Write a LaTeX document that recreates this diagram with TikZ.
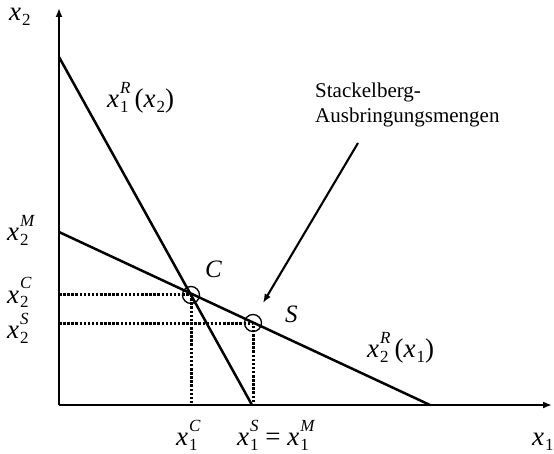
\documentclass[tikz,border=0pt]{standalone}
\usepackage{fontspec}
\setmainfont{Liberation Serif}
\usetikzlibrary{arrows.meta}
\newcommand\subsz{\fontsize{17}{17}\selectfont}
\newbox\subbx
\newbox\supbx
% x with subscript #1 and superscript #2, placed by hand
\newcommand\xs[2]{\textit{x}\kern1pt\setbox\subbx\hbox{\subsz #1}\setbox\supbx\hbox{\subsz\itshape #2}%
  \raisebox{-5pt}{\copy\subbx}\kern-\wd\subbx\raisebox{14pt}{\copy\supbx}%
  \ifdim\wd\subbx>\wd\supbx\kern\dimexpr\wd\subbx-\wd\supbx\relax\fi}
\begin{document}
\begin{tikzpicture}[x=1pt,y=-1pt,
  axis/.style={line width=2.8pt,-{Latex[length=9pt,width=7pt]}},
  curve/.style={line width=2.5pt},
  dots/.style={line width=3pt,dash pattern=on 2.5pt off 1.6pt},
  ring/.style={circle,draw,line width=1.3pt,minimum size=17pt,inner sep=0pt},
  mlab/.style={font=\fontsize{27}{30}\selectfont,inner sep=0pt,anchor=base west},
  tlab/.style={font=\fontsize{21}{25}\selectfont,inner sep=0pt,anchor=base west,align=left},
  pointer/.style={line width=2.1pt,-{Latex[length=9pt,width=7pt]}}]
\useasboundingbox (0,0) rectangle (554,454);
% key points
\coordinate (O) at (59,405);
\coordinate (Ytop) at (59,8);
\coordinate (Xend) at (552,405);
\coordinate (A) at (59,57);
\coordinate (B) at (252,405);
\coordinate (M) at (59,232);
\coordinate (D) at (430,405);
\coordinate (Cp) at (191,295);
\coordinate (Sp) at (253,323);
\coordinate (Cy) at (59,295);
\coordinate (Sy) at (59,323);
\coordinate (Cx) at (191,405);
\coordinate (Sx) at (253,405);
\coordinate (Pstart) at (358,143);
\coordinate (Pend) at (263,303);
% axes
\draw[axis] (O) -- (Ytop);
\draw[axis] (O) -- (Xend);
% reaction curves
\draw[curve] (A) -- (B);
\draw[curve] (M) -- (D);
% dotted guides
\draw[dots] (Cy) -- (Cp) -- (Cx);
\draw[dots] (Sy) -- (Sp) -- (Sx);
% circles
\node[ring] (Cc) at (Cp) {};
\node[ring] (Sc) at (Sp) {};
% pointer
\draw[pointer] (Pstart) -- (Pend);
% labels
\node[mlab] (lx2) at (9,21) {\xs{2}{}};
\node[mlab] (lr1) at (107,108) {\xs{1}{R}\kern4pt(\xs{2}{})};
\node[mlab] (l2M) at (7,241) {\xs{2}{M}};
\node[mlab] (l2C) at (7,303) {\xs{2}{C}};
\node[mlab] (l2S) at (7,338) {\xs{2}{S}};
\node[mlab,font=\fontsize{25}{30}\selectfont] (lC) at (205,277) {\itshape C};
\node[mlab,font=\fontsize{25}{30}\selectfont] (lS) at (285,322) {\itshape S};
\node[mlab] (lr2) at (367,357) {\xs{2}{R}\kern4pt(\xs{1}{})};
\node[mlab] (l1C) at (176,445) {\xs{1}{C}};
\node[mlab] (l1S) at (237,445) {\xs{1}{S} = \xs{1}{M}};
\node[mlab] (lx1) at (532,445) {\xs{1}{}};
\node[tlab] (stk) at (315,123) {Stackelberg-\\Ausbringungsmengen};
\end{tikzpicture}
\end{document}
